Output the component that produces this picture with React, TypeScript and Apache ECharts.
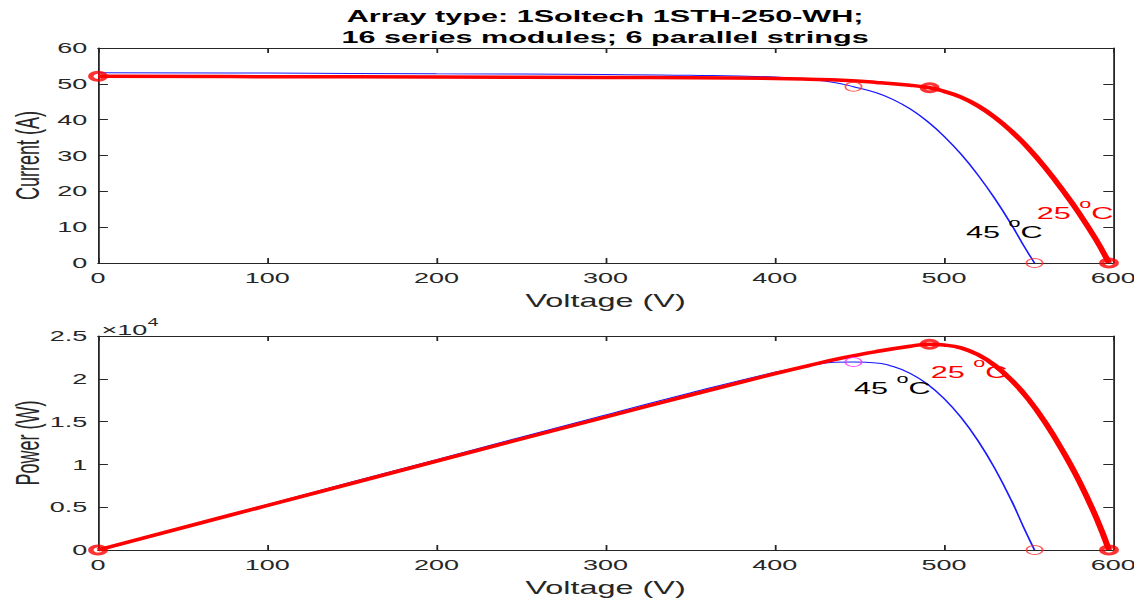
import React, { useEffect, useRef } from "react";
import * as echarts from "echarts";

const TITLE_LINES = ["Array type: 1Soltech 1STH-250-WH;", "16 series modules; 6 parallel strings"];
const X_NAME = "Voltage (V)";
const Y1_NAME = "Current (A)";
const Y2_NAME = "Power (W)";
const LABEL_25 = "25";
const LABEL_45 = "45";
const EXP_BASE = "×10";
const EXP_POW = "4";

const voltageRange = [0, 600, 100];
const currentRange = [0, 60, 10];
const powerRange = [0, 25000, 5000];

// 25 °C curve (thick red), voltage (V) / current (A)
const v25 = [0, 100, 200, 300, 350, 400, 420, 440, 460, 480, 491.5, 500, 510, 520, 530, 540, 550, 560, 570, 580, 590, 597.5];
const i25 = [52.1, 52.0, 51.9, 51.8, 51.7, 51.5, 51.3, 51.0, 50.4, 49.6, 48.9, 47.9, 46.3, 43.9, 40.7, 36.7, 32.0, 26.5, 20.4, 13.8, 6.4, 0];
// 45 °C curve (thin blue)
const v45 = [0, 100, 200, 300, 350, 400, 420, 435, 446.5, 460, 470, 480, 490, 500, 510, 520, 530, 540, 547, 553.5];
const i45 = [53.1, 53.0, 52.8, 52.6, 52.4, 51.9, 51.2, 50.4, 49.2, 47.5, 45.6, 43.0, 39.6, 35.4, 30.4, 24.6, 18.0, 10.6, 4.9, 0];

// marked points: Isc, MPP, Voc
const key25V = [0, 491.5, 597.5];
const key25I = [52.1, 48.9, 0];
const key45V = [446.5, 553.5];
const key45I = [49.2, 0];

const AX = "#262626";
const FONT = "'Liberation Sans', Arial, Helvetica, sans-serif";
const SX = 1.8;
const W = 626;
const H = 591;

function xAx(grid: number, pos: string, labels: boolean) {
  return {
    type: "value",
    gridIndex: grid,
    position: pos,
    min: voltageRange[0],
    max: voltageRange[1],
    interval: voltageRange[2],
    axisLine: { show: true, onZero: false, lineStyle: { color: AX, width: 1 } },
    axisTick: { show: true, inside: true, length: 5, lineStyle: { color: AX } },
    axisLabel: { show: labels, color: AX, fontSize: 15, fontFamily: FONT, margin: 7 },
    splitLine: { show: false },
    name: labels ? X_NAME : "",
    nameLocation: "middle",
    nameGap: 29,
    nameMoveOverlap: false,
    nameTextStyle: { color: AX, fontSize: 18, fontFamily: FONT },
  };
}

function yAx(grid: number, pos: string, labels: boolean, range: number[], name: string, gap: number, fmt?: (v: number) => string) {
  return {
    type: "value",
    gridIndex: grid,
    position: pos,
    min: range[0],
    max: range[1],
    interval: range[2],
    axisLine: { show: true, onZero: false, lineStyle: { color: AX, width: 1 } },
    axisTick: { show: true, inside: true, length: 5.5, lineStyle: { color: AX } },
    axisLabel: { show: labels, color: AX, fontSize: 15, fontFamily: FONT, margin: 6, formatter: fmt },
    splitLine: { show: false },
    name: labels ? name : "",
    nameLocation: "middle",
    nameGap: gap,
    nameMoveOverlap: false,
    nameTextStyle: { color: AX, fontSize: 18, fontFamily: FONT },
  };
}

function lineSeries(xi: number, yi: number, V: number[], Y: number[], color: string, width: number, z: number) {
  return {
    type: "line",
    xAxisIndex: xi,
    yAxisIndex: yi,
    data: V.map((v, k) => [v, Y[k]]),
    smooth: 0.45,
    symbol: "none",
    showSymbol: false,
    lineStyle: { color, width },
    z,
    silent: true,
  };
}

function markSeries(xi: number, yi: number, pts: number[][], color: string, size: number, bw: number, z: number) {
  return {
    type: "scatter",
    xAxisIndex: xi,
    yAxisIndex: yi,
    data: pts,
    symbol: "circle",
    symbolSize: size,
    itemStyle: { color: "rgba(0,0,0,0)", borderColor: color, borderWidth: bw },
    z,
    silent: true,
  };
}

function degText(num: string, x: number, y: number, color: string) {
  return {
    type: "text",
    x,
    y,
    z: 100,
    style: {
      text: `{a|${num} }{s|o}{a|C}`,
      font: `17px ${FONT}`,
      fill: color,
      align: "left",
      textAlign: "left",
      verticalAlign: "middle",
      textVerticalAlign: "middle",
      rich: {
        a: { fontSize: 17, fontFamily: FONT, lineHeight: 24, verticalAlign: "bottom", fill: color, color },
        s: { fontSize: 12, fontFamily: FONT, lineHeight: 10, verticalAlign: "top", fill: color, color },
      },
    },
  };
}

const p25 = v25.map((v, k) => v * i25[k]);
const p45 = v45.map((v, k) => v * i45[k]);

export default function App() {
  const ref = useRef<HTMLDivElement>(null);
  useEffect(() => {
    if (!ref.current) return;
    const chart = echarts.init(ref.current, null, { renderer: "svg" });
    const option = {
      animation: false,
      grid: [
        { left: 50, top: 40, width: 564, height: 215, containLabel: false, outerBoundsMode: "none" },
        { left: 50, top: 328, width: 564, height: 214, containLabel: false, outerBoundsMode: "none" },
      ],
      xAxis: [xAx(0, "bottom", true), xAx(0, "top", false), xAx(1, "bottom", true), xAx(1, "top", false)],
      yAxis: [
        yAx(0, "left", true, currentRange, Y1_NAME, 30),
        yAx(0, "right", false, currentRange, "", 30),
        yAx(1, "left", true, powerRange, Y2_NAME, 30, (v: number) => String(v / 10000)),
        yAx(1, "right", false, powerRange, "", 30),
      ],
      series: [
        lineSeries(0, 0, v45, i45, "#1a1aff", 1, 2),
        lineSeries(0, 0, v25, i25, "#ff0000", 3.5, 3),
        markSeries(0, 0, key45V.map((v, k) => [v, key45I[k]]), "#ff3030", 9, 1, 4),
        markSeries(0, 0, key25V.map((v, k) => [v, key25I[k]]), "#ff0000", 8, 3, 5),
        lineSeries(2, 2, v45, p45, "#1a1aff", 1, 2),
        lineSeries(2, 2, v25, p25, "#ff0000", 3.5, 3),
        markSeries(2, 2, [[key45V[0], key45V[0] * key45I[0]]], "#ff30ff", 9, 1, 4),
        markSeries(2, 2, [[key45V[1], key45V[1] * key45I[1]]], "#ff3030", 9, 1, 4),
        markSeries(2, 2, key25V.map((v, k) => [v, v * key25I[k]]), "#ff0000", 8, 3, 5),
      ],
      graphic: [
        {
          type: "text",
          x: 331.7,
          y: 18.5,
          z: 100,
          style: {
            text: TITLE_LINES.join("\n"),
            font: `bold 17px ${FONT}`,
            lineHeight: 21,
            fill: "#000",
            align: "center",
            textAlign: "center",
            verticalAlign: "middle",
            textVerticalAlign: "middle",
          },
        },
        degText(LABEL_45, 532.2, 220.5, "#000000"),
        degText(LABEL_25, 571.5, 202, "#ff0000"),
        degText(LABEL_45, 470, 377, "#000000"),
        degText(LABEL_25, 512.6, 360.4, "#ff0000"),
        {
          type: "text",
          x: 52,
          y: 319,
          z: 100,
          style: {
            text: `{a|${EXP_BASE}}{s|${EXP_POW}}`,
            font: `15px ${FONT}`,
            fill: AX,
            align: "left",
            textAlign: "left",
            verticalAlign: "middle",
            textVerticalAlign: "middle",
            rich: {
              a: { fontSize: 15, fontFamily: FONT, lineHeight: 20, verticalAlign: "bottom", fill: AX, color: AX },
              s: { fontSize: 11, fontFamily: FONT, lineHeight: 9, verticalAlign: "top", fill: AX, color: AX },
            },
          },
        },
      ],
    };
    chart.setOption(option as any);
    return () => chart.dispose();
  }, []);
  return (
    <div
      ref={ref}
      style={{ width: W, height: H, transform: `scaleX(${SX})`, transformOrigin: "0 0" }}
    />
  );
}
